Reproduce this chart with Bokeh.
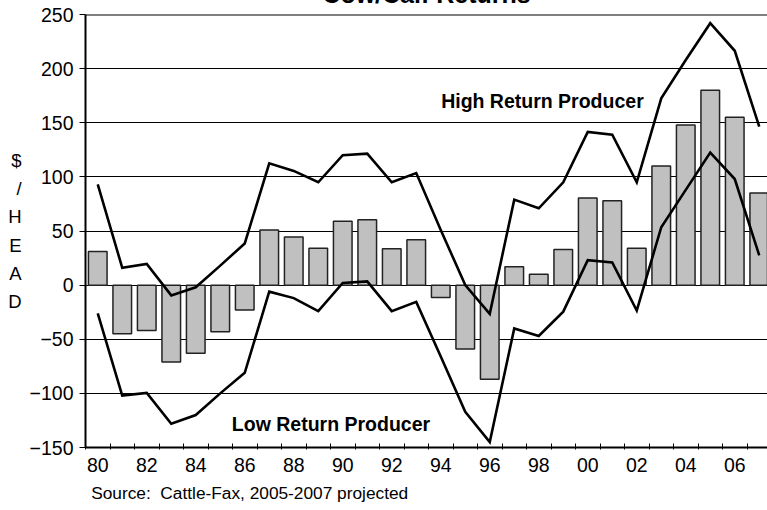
from bokeh.plotting import figure
from bokeh.models import Range1d, FixedTicker, Label, Span, Title
from bokeh.embed import file_html
from bokeh.resources import INLINE

# ---- data ----
years = list(range(1980, 2008))
avg_returns = [31, -45, -42, -71, -63, -43, -23, 51, 44.5, 34, 59, 60.5, 33.5, 42,
               -11.5, -59, -87, 17, 10, 33, 80.5, 78, 34, 110, 148, 180, 155, 85]
high_returns = [93, 16, 19.5, -9.5, -2, 18, 38.5, 112.5, 105.5, 95, 120, 121.5, 95, 103.5,
                51, 0, -26.5, 79, 71, 95, 141.5, 139, 95, 172.5, 208, 242, 216.5, 146.5]
low_returns = [-26, -102, -99.5, -128, -120, -100, -81, -6, -12, -24, 2, 3.5, -24, -15.5,
               -66, -117, -145, -40, -47, -24.5, 23, 21, -23.5, 53.5, 88, 122.5, 98, 27.5]
label_years = list(range(1980, 2008, 2))
tick_labels = ["80", "82", "84", "86", "88", "90", "92", "94", "96", "98",
               "00", "02", "04", "06"]
y_ticks = [-150, -100, -50, 0, 50, 100, 150, 200, 250]
y_label_chars = ["$", "/", "H", "E", "A", "D"]

title_text = "Cow/Calf Returns"
high_text = "High Return Producer"
low_text = "Low Return Producer"
source_text = "Source:\u00a0 Cattle-Fax, 2005-2007 projected"

FONT = "Liberation Sans"

W, H = 767, 510
shift = 32                      # canvas is pulled up so that only the foot of the title shows
left, right, top, bottom = 85, 0, 14 + shift, 63
band_px = 24.5
frame_w = W - left - right
x_start = years[0] - 0.5
x_end = x_start + frame_w / band_px

p = figure(width=W, height=H + shift, x_range=Range1d(x_start, x_end),
           y_range=Range1d(-150, 250),
           output_backend="svg", toolbar_location=None,
           min_border_left=left, min_border_right=right,
           min_border_top=top, min_border_bottom=bottom)
p.styles = {"margin-top": f"-{shift}px"}
p.outline_line_color = None
p.background_fill_color = "white"
p.border_fill_color = "white"

# title (mostly above the visible page, as in the reference)
p.title.text = title_text
p.title.align = "center"
p.title.text_font = FONT
p.title.text_font_style = "bold"
p.title.text_font_size = "25px"
p.title.text_color = "black"
p.title.standoff = 14
p.title.offset = 0

# grid
p.xgrid.visible = False
p.ygrid.ticker = FixedTicker(ticks=y_ticks)
p.ygrid.grid_line_color = "black"
p.ygrid.grid_line_width = 1
p.add_layout(Span(location=y_ticks[-1], dimension="width", line_color="black", line_width=2))

# x axis
boundaries = [y - 0.5 for y in years] + [years[-1] + 0.5]
xa = p.xaxis[0]
xa.ticker = FixedTicker(ticks=label_years, minor_ticks=boundaries)
xa.major_label_overrides = {y: t for y, t in zip(label_years, tick_labels)}
xa.major_tick_in = 0
xa.major_tick_out = 0
xa.minor_tick_in = 4
xa.minor_tick_out = 2
xa.minor_tick_line_color = "black"
xa.minor_tick_line_width = 1
xa.axis_line_width = 2
xa.axis_line_color = "black"
xa.major_label_text_font = FONT
xa.major_label_text_font_size = "19.5px"
xa.major_label_text_color = "black"
xa.major_label_standoff = 8

# y axis with the stacked "$ / HEAD" label
ya = p.yaxis[0]
ya.ticker = FixedTicker(ticks=y_ticks)
ya.major_tick_in = 0
ya.major_tick_out = 6
ya.minor_tick_in = 0
ya.minor_tick_out = 0
ya.major_tick_line_color = "black"
ya.axis_line_width = 2
ya.axis_line_color = "black"
ya.major_label_text_font = FONT
ya.major_label_text_font_size = "19.5px"
ya.major_label_text_color = "black"
ya.major_label_standoff = 6
ya.axis_label = "\n".join(y_label_chars)
ya.axis_label_orientation = "horizontal"
ya.axis_label_text_font = FONT
ya.axis_label_text_font_style = "normal"
ya.axis_label_text_font_size = "18.5px"
ya.axis_label_text_line_height = 1.35
ya.axis_label_text_align = "center"
ya.axis_label_text_color = "black"
ya.axis_label_standoff = 5

# source note under the axis
p.add_layout(Title(text=source_text, align="left", offset=5.7, standoff=13,
                   text_font=FONT, text_font_style="normal", text_font_size="17.3px",
                   text_line_height=1.0, text_color="black"), "below")

# bars
p.vbar(x=years, top=avg_returns, bottom=0, width=0.76,
       fill_color="#c0c0c0", line_color="#222222", line_width=1.5)

# lines
p.line(years, high_returns, line_color="black", line_width=2.6, line_join="miter")
p.line(years, low_returns, line_color="black", line_width=2.6, line_join="miter")

# series labels
p.add_layout(Label(x=1998.15, y=170.4, text=high_text, text_align="center",
                   text_baseline="alphabetic", text_font=FONT, text_font_style="bold",
                   text_font_size="19.5px", text_color="black"))
p.add_layout(Label(x=1989.52, y=-128, text=low_text, text_align="center",
                   text_baseline="alphabetic", text_font=FONT, text_font_style="bold",
                   text_font_size="19.5px", text_color="black"))

open("out.html", "w").write(file_html(p, INLINE))
